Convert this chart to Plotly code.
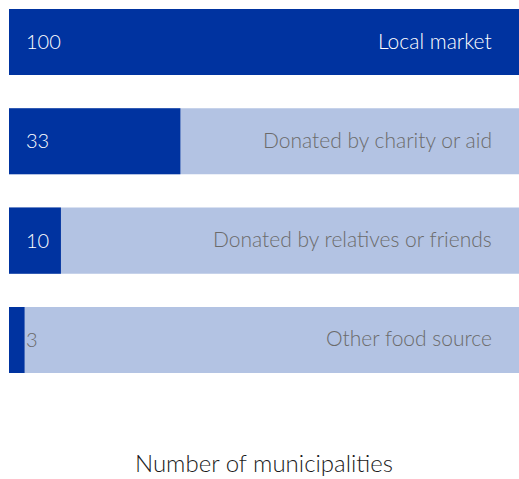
import plotly.graph_objects as go

# Food sources reported, number of municipalities (out of 100)
categories = ["Local market", "Donated by charity or aid",
              "Donated by relatives or friends", "Other food source"]
values = [100, 33, 10, 3]
total = 100

DARK = "#0033a0"
LIGHT = "#b3c3e3"
GREY = "#6b6b6b"
FONT = "Lato"

ypos = list(range(len(categories)))

fig = go.Figure()
fig.add_trace(go.Bar(
    y=ypos, x=[total] * len(values), orientation="h",
    marker=dict(color=LIGHT, line=dict(width=0)), width=0.665,
    hoverinfo="skip", showlegend=False,
))
fig.add_trace(go.Bar(
    y=ypos, x=values, orientation="h",
    marker=dict(color=DARK, line=dict(width=0)), width=0.665,
    hovertemplate="%{x}<extra></extra>", showlegend=False,
))

for y, cat, v in zip(ypos, categories, values):
    # value label near the start of the bar
    fig.add_annotation(
        x=2.8, y=y, xref="x", yref="y", text=str(v), showarrow=False,
        xanchor="left", yanchor="middle", yshift=1,
        font=dict(family=FONT, size=20, color="white" if v > 5 else GREY, weight=300),
    )
    # category name near the end of the bar
    fig.add_annotation(
        x=93.3, y=y, xref="x", yref="y", text=cat, showarrow=False,
        xanchor="right", yanchor="middle", yshift=2,
        font=dict(family=FONT, size=21, color="white" if v >= 90 else GREY, weight=300),
    )

fig.update_layout(
    width=519, height=479,
    margin=dict(l=9, r=0, t=0, b=79),
    barmode="overlay",
    plot_bgcolor="white", paper_bgcolor="white",
    xaxis=dict(range=[0, 98.2], showgrid=False, zeroline=False,
               showticklabels=False, ticks="",
               title=dict(text="Number of municipalities", standoff=55,
                          font=dict(family=FONT, size=24, color="#1a1a1a", weight=300))),
    yaxis=dict(range=[3.605, -0.423], showgrid=False, zeroline=False,
               showticklabels=False, ticks=""),
)

fig.write_html("out.html")
